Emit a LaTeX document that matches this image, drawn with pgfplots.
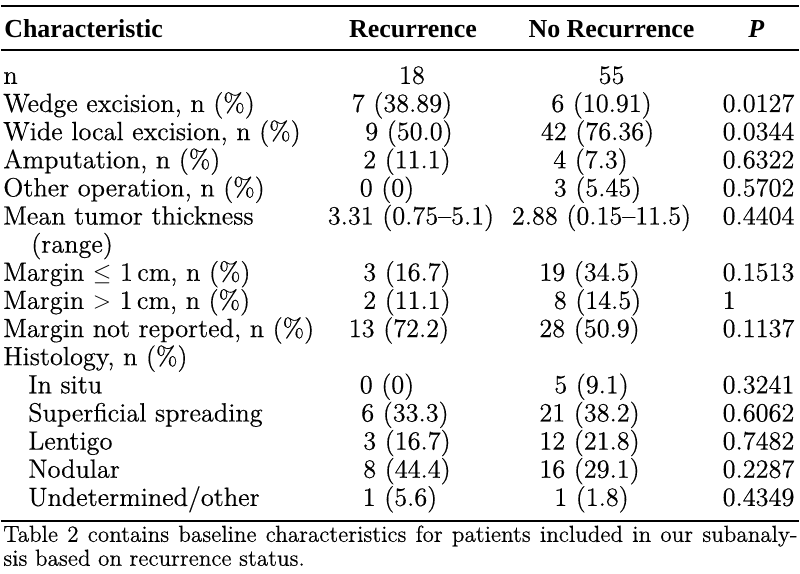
\documentclass[border=0pt]{standalone}
\usepackage{fontspec}
\newfontfamily\hdr{Liberation Serif}
\newfontfamily\bodyf{Latin Modern Roman}[FakeBold=0.45]
\usepackage{pgfplots}
\pgfplotsset{compat=1.18}
\pgfplotsset{
  txt/.style={draw=none, mark=none, point meta=explicit symbolic, nodes near coords,
    nodes near coords align={anchor=#1},
    nodes near coords style={anchor=#1, inner sep=0pt, text=black, font=\bodyf\fontsize{13.2}{15}\selectfont}},
  hd/.style={draw=none, mark=none, point meta=explicit symbolic, nodes near coords,
    nodes near coords align={anchor=#1},
    nodes near coords style={anchor=#1, inner sep=0pt, text=black, font=\hdr\bfseries\fontsize{13}{15}\selectfont}},
}
\begin{document}
\begin{tikzpicture}
\begin{axis}[
  scale only axis, width=400pt, height=287.5pt,
  xmin=0, xmax=800, ymin=0, ymax=575, y dir=reverse,
  hide axis, clip=false]
\addplot[draw=none] coordinates {(0,0) (800,575)};
% rules
\addplot[black, line width=0.9pt] coordinates {(0,6) (800,6)};
\addplot[black, line width=0.8pt] coordinates {(0,50) (800,50)};
\addplot[black, line width=0.8pt] coordinates {(0,522) (800,522)};
% header
\addplot[hd=base west] coordinates {(3,38) [Characteristic]};
\addplot[hd=base] coordinates {(413,38) [Recurrence] (612,38) [No Recurrence] (757,38) [\itshape P]};
% characteristic column
\addplot[txt=base west] coordinates {
 (2,84) [n]
 (2,112.2) [Wedge excision, n (\%)]
 (2,140.4) [Wide local excision, n (\%)]
 (2,168.6) [Amputation, n (\%)]
 (2,196.8) [Other operation, n (\%)]
 (2,225) [Mean tumor thickness]
 (30,253.2) [(range)]
 (2,281.4) [Margin $\leq$ 1\,cm, n (\%)]
 (2,309.6) [Margin $>$ 1\,cm, n (\%)]
 (2,337.8) [Margin not reported, n (\%)]
 (2,366) [Histology, n (\%)]
 (27,394.2) [In situ]
 (27,422.4) [Superficial spreading]
 (27,450.6) [Lentigo]
 (27,478.8) [Nodular]
 (27,507) [Undetermined/other]
};
% recurrence column
\addplot[txt=base] coordinates {
 (412,84) [18]
 (402,112.2) [7 (38.89)]
 (409,140.4) [9 (50.0)]
 (407,168.6) [2 (11.1)]
 (387,196.8) [0 (0)]
 (411,225) [3.31 (0.75\textendash 5.1)]
 (407,281.4) [3 (16.7)]
 (407,309.6) [2 (11.1)]
 (399,337.8) [13 (72.2)]
 (387,394.2) [0 (0)]
 (405,422.4) [6 (33.3)]
 (407,450.6) [3 (16.7)]
 (407,478.8) [8 (44.4)]
 (400,507) [1 (5.6)]
};
% no recurrence column
\addplot[txt=base] coordinates {
 (612,84) [55]
 (602,112.2) [6 (10.91)]
 (598,140.4) [42 (76.36)]
 (591,168.6) [4 (7.3)]
 (598,196.8) [3 (5.45)]
 (602,225) [2.88 (0.15\textendash 11.5)]
 (590,281.4) [19 (34.5)]
 (598,309.6) [8 (14.5)]
 (590,337.8) [28 (50.9)]
 (592,394.2) [5 (9.1)]
 (590,422.4) [21 (38.2)]
 (590,450.6) [12 (21.8)]
 (590,478.8) [16 (29.1)]
 (592,507) [1 (1.8)]
};
% P column
\addplot[txt=base west] coordinates {
 (723,112.2) [0.0127]
 (723,140.4) [0.0344]
 (723,168.6) [0.6322]
 (723,196.8) [0.5702]
 (723,225) [0.4404]
 (723,281.4) [0.1513]
 (723,309.6) [1]
 (723,337.8) [0.1137]
 (723,394.2) [0.3241]
 (723,422.4) [0.6062]
 (723,450.6) [0.7482]
 (723,478.8) [0.2287]
 (723,507) [0.4349]
};
\node[anchor=base west, inner sep=0pt, font=\bodyf\fontsize{11.6}{13}\selectfont] at (axis cs:2,543)
  {\makebox[398pt][s]{Table 2 contains baseline characteristics for patients included in our subanaly-}};
\node[anchor=base west, inner sep=0pt, font=\bodyf\fontsize{11.6}{13}\selectfont] at (axis cs:2,567)
  {sis based on recurrence status.};
\end{axis}
\end{tikzpicture}
\end{document}
